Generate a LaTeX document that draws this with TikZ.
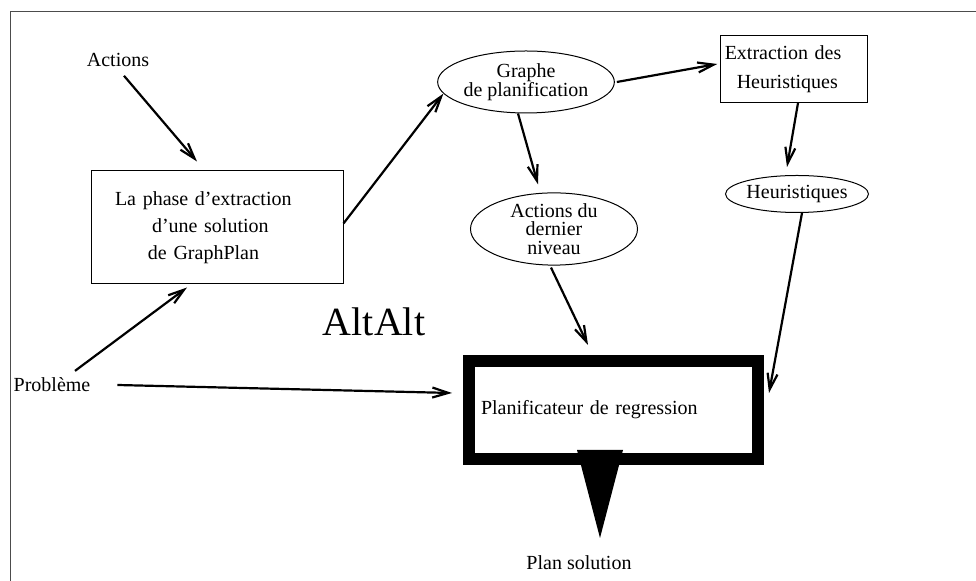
\documentclass[tikz,border=0pt]{standalone}
\usepackage{fontspec}
\setmainfont{Liberation Serif}
\usetikzlibrary{shapes.geometric,arrows.meta}

\begin{document}
\begin{tikzpicture}
      [%%%%%%%%%%%%%%%%%%%%%%%%%%%%%%
      x=0.5pt,y=-0.5pt,
      box/.style={rectangle,draw=black,line width=0.5pt},
      oval/.style={ellipse,draw=black,line width=0.5pt,inner sep=0pt,align=center,
        font=\fontsize{10}{9.25}\selectfont},
      lbl/.style={font=\fontsize{10}{12}\selectfont},
      arr/.style={-{Straight Barb[length=8pt,width=5pt]},line width=1.1pt},
      ]%%%%%%%%%%%%%%%%%%%%%%%%%%%%%%

      \useasboundingbox (0,0) rectangle (976,581);
      \draw[line width=0.5pt,black!70] (976,12) -- (10,12) -- (10,581);

      \node[lbl] (actions) at (118,60){Actions};
      \node[lbl] (probleme) at (52,385){Problème};

      \node[box,minimum width=126pt,minimum height=56.5pt,inner xsep=12pt,
        text width=102pt,align=left,font=\fontsize{10}{13.5}\selectfont]
        (phase) at (217,227.5){La phase d'extraction\\
        \hspace*{18.5pt}d'une solution\\
        \hspace*{16.5pt}de GraphPlan};

      \node[oval,minimum width=84.5pt,minimum height=31pt] (graphe) at (526,82)
        {Graphe\\de planification};
      \node[box,minimum width=73.25pt,minimum height=33.5pt,inner xsep=2pt,
        text width=69.25pt,align=left,font=\fontsize{10}{14.5}\selectfont]
        (extraction) at (794,69){Extraction des\\\hspace*{6pt}Heuristiques};
      \node[oval,minimum width=67pt,minimum height=18.5pt] (heur) at (797,194)
        {Heuristiques};
      \node[oval,minimum width=83.5pt,minimum height=31.5pt] (dernier) at (554,229)
        {Actions du\\dernier\\niveau};

      \node[font=\fontsize{20}{24}\selectfont] (altalt) at (374,322){AltAlt};

      \node[rectangle,draw=black,line width=6pt,minimum width=144.5pt,minimum height=49pt,
        inner xsep=6pt,text width=132.5pt,align=left,lbl]
        (regression) at (613.5,410){Planificateur de regression};

      \fill[black] (577,450) -- (623,450) -- (600,538) -- cycle;
      \node[lbl] (solution) at (579,563){Plan solution};

      % connecteurs
      \draw[arr] ([xshift=3pt,yshift=-1pt]actions.south) -- ([xshift=-10pt,yshift=4.5pt]phase.north);
      \draw[arr] ([yshift=2pt]phase.east) -- (graphe.188);
      \draw[arr] ([xshift=11.5pt]probleme.north) -- ([xshift=-15pt,yshift=-1.5pt]phase.south);
      \draw[arr] ([xshift=10pt]probleme.east) -- ([xshift=-5.5pt,yshift=8.5pt]regression.west);
      \draw[arr] ([xshift=1pt]graphe.east) -- ([xshift=-1.5pt,yshift=2.5pt]extraction.west);
      \draw[arr] ([xshift=-4pt]graphe.south) -- ([xshift=-8pt,yshift=4pt]dernier.north);
      \draw[arr] ([xshift=2pt]extraction.south) -- ([xshift=-5pt,yshift=4pt]heur.north);
      \draw[arr] ([xshift=-1.5pt,yshift=-1pt]dernier.south) -- ([xshift=-12.75pt,yshift=5pt]regression.north);
      \draw[arr] ([xshift=2.5pt]heur.south) -- ([xshift=2.5pt,yshift=8.5pt]regression.east);
    \end{tikzpicture}
\end{document}
